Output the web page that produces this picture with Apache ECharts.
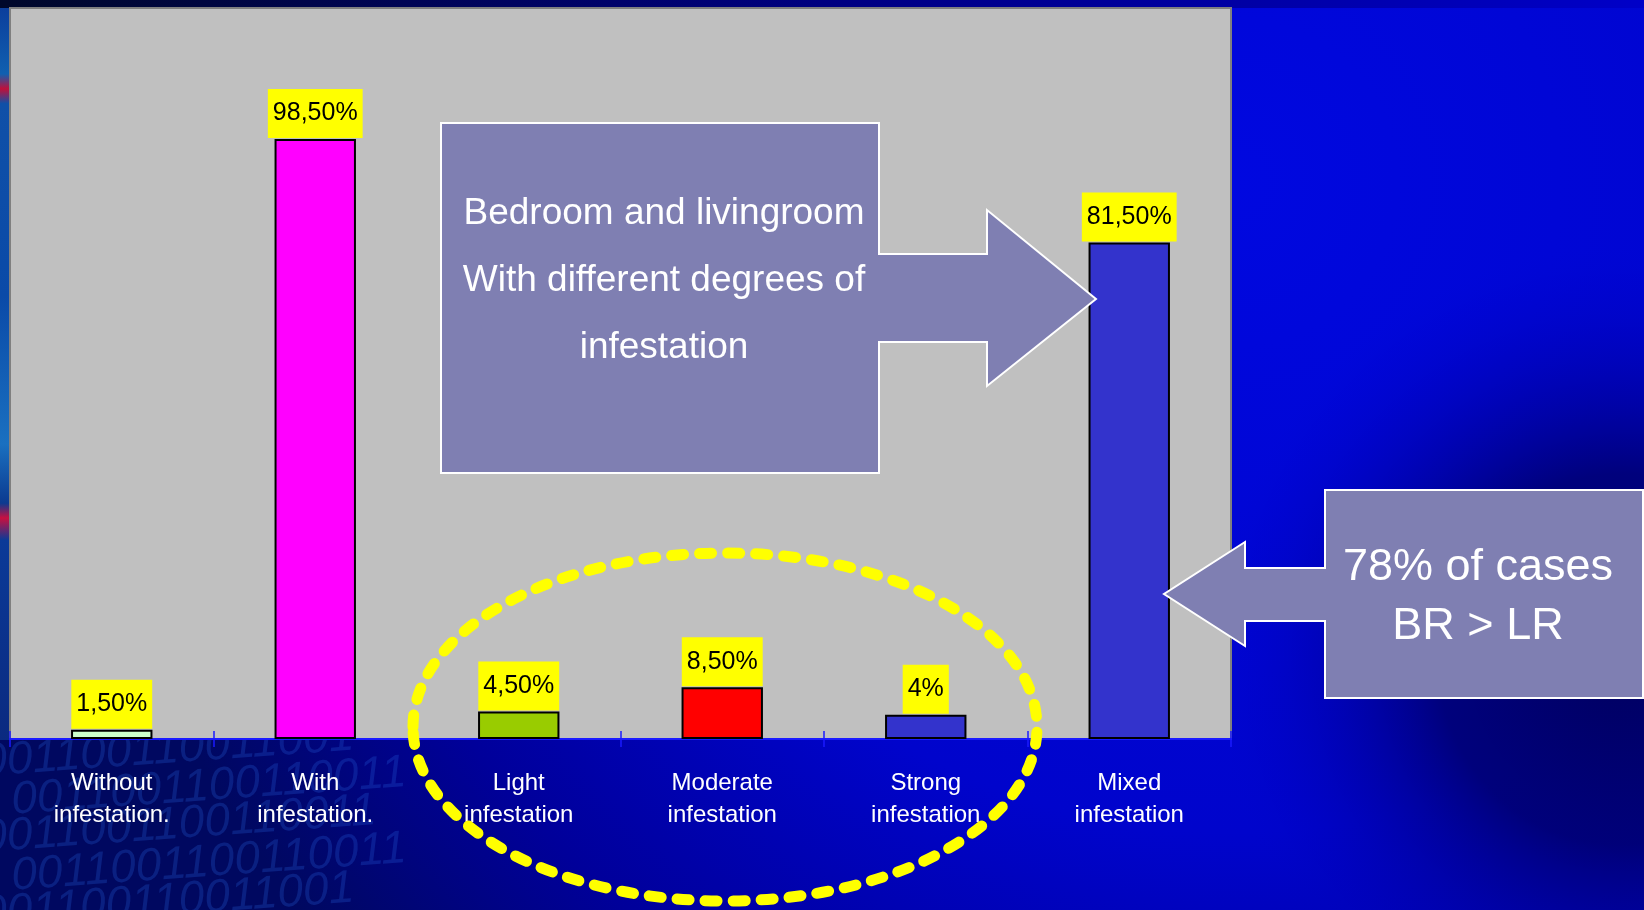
<!DOCTYPE html>
<html>
<head>
<meta charset="utf-8">
<script src="https://cdn.jsdelivr.net/npm/echarts@6/dist/echarts.min.js"></script>
<style>
html,body{margin:0;padding:0;background:#000060;}
#chart{width:1644px;height:910px;}
</style>
</head>
<body>
<div id="chart"></div>
<script>
const categories = ['Without\ninfestation.', 'With\ninfestation.', 'Light\ninfestation', 'Moderate\ninfestation', 'Strong\ninfestation', 'Mixed\ninfestation'];
const values = [1.5, 98.5, 4.5, 8.5, 4, 81.5];
const valueLabels = ['1,50%', '98,50%', '4,50%', '8,50%', '4%', '81,50%'];
const barColors = ['#CCFFCC', '#FF00FF', '#99CC00', '#FF0000', '#3333CC', '#3333CC'];
const calloutMain = ['Bedroom and livingroom', 'With different degrees of', 'infestation'];
const calloutSide = ['78% of cases', 'BR > LR'];
const binaryRows = ['001100110011001', '0011001100110011', '0011001100110011', '0011001100110011', '001100110011001'];

const FONT = '"Liberation Sans", Arial, sans-serif';
const chart = echarts.init(document.getElementById('chart'), null, {renderer: 'canvas'});

const graphics = [];
// dark blob on the right side of the slide background
graphics.push({type:'rect', z:-6, silent:true, shape:{x:1232,y:250,width:412,height:660},
  style:{fill:{type:'radial',x:0.95,y:0.62,r:1.0,colorStops:[
    {offset:0,color:'rgba(0,0,96,1)'},{offset:0.45,color:'rgba(0,0,110,0.85)'},{offset:1,color:'rgba(0,0,200,0)'}]}}});
// left decorative strip
graphics.push({type:'rect', z:-5, shape:{x:0,y:0,width:9,height:740},
  style:{fill:{type:'linear',x:0,y:0,x2:0,y2:1,colorStops:[
    {offset:0,color:'#0b3a9a'},{offset:0.1,color:'#1060b0'},{offset:0.12,color:'#c0103a'},{offset:0.14,color:'#1050a8'},
    {offset:0.4,color:'#0a4aa8'},{offset:0.6,color:'#1a70c0'},{offset:0.68,color:'#0c3a90'},{offset:0.7,color:'#c81040'},
    {offset:0.73,color:'#0a3a98'},{offset:1,color:'#0a2a80'}]}}});
// top dark strip
graphics.push({type:'rect', z:-5, shape:{x:0,y:0,width:1644,height:8},
  style:{fill:{type:'linear',x:0,y:0,x2:1,y2:0,colorStops:[{offset:0,color:'#00082a'},{offset:0.5,color:'#000080'},{offset:1,color:'#0000c8'}]}}});
// binary background text
binaryRows.forEach(function(t, i){
  graphics.push({type:'text', z:-4, x:-20 + (i%2)*30, y:740 + i*38, rotation:0.07,
    style:{text:t, fill:'rgba(40,110,235,0.24)', fontSize:46, fontStyle:'italic', fontFamily:FONT}});
});
// main callout arrow
graphics.push({type:'polygon', z:50,
  shape:{points:[[441,123],[879,123],[879,254],[987,254],[987,210],[1096,299],[987,386],[987,342],[879,342],[879,473],[441,473]]},
  style:{fill:'#7F7FB2', stroke:'#FFFFFF', lineWidth:2}});
graphics.push({type:'text', z:51, x:664, y:281,
  style:{text:calloutMain.join('\n'), fill:'#FFFFFF', fontSize:37, fontFamily:FONT, lineHeight:67, align:'center', verticalAlign:'middle'}});
// side callout arrow
graphics.push({type:'polygon', z:50,
  shape:{points:[[1643,490],[1325,490],[1325,568],[1245,568],[1245,542],[1164,594],[1245,646],[1245,621],[1325,621],[1325,698],[1643,698]]},
  style:{fill:'#7F7FB2', stroke:'#FFFFFF', lineWidth:2}});
graphics.push({type:'text', z:51, x:1478, y:597,
  style:{text:calloutSide.join('\n'), fill:'#FFFFFF', fontSize:45, fontFamily:FONT, lineHeight:59, align:'center', verticalAlign:'middle'}});
// dashed yellow ellipse
graphics.push({type:'ellipse', z:100,
  shape:{cx:725, cy:727, rx:312, ry:174},
  style:{fill:null, stroke:'#FFFF00', lineWidth:11, lineDash:[12,16], lineCap:'round'}});

const option = {
  animation: false,
  backgroundColor: {type:'radial', x:0.75, y:0.2, r:1.3, colorStops:[
    {offset:0,color:'#0008E0'},{offset:0.55,color:'#0004CC'},{offset:0.8,color:'#00009A'},{offset:1,color:'#000860'}]},
  grid: {left:10, right:413, top:8, bottom:171, show:true, backgroundColor:'#C0C0C0', borderColor:'#808080', borderWidth:2, containLabel:false},
  xAxis: [{
    type:'category', data:categories, position:'bottom',
    axisLine:{show:true, lineStyle:{color:'#1a1aff', width:2}},
    axisTick:{show:true, length:8, lineStyle:{color:'#1a1aff', width:1.5}},
    axisLabel:{color:'#FFFFFF', fontSize:24, fontFamily:FONT, lineHeight:32, margin:28, interval:0},
    splitLine:{show:false}
  },{
    type:'category', data:categories, position:'bottom',
    axisLine:{show:false},
    axisTick:{show:true, inside:true, length:8, lineStyle:{color:'#1a1aff', width:1.5}},
    axisLabel:{show:false}, splitLine:{show:false}
  }],
  yAxis: {type:'value', min:0, max:120, show:false, splitLine:{show:false}},
  series: [{
    type:'bar', xAxisIndex:0, barWidth:'40%',
    data: values.map(function(v, i){ return {value:v, itemStyle:{color:barColors[i]}}; }),
    itemStyle:{borderColor:'#000000', borderWidth:2},
    label:{show:true, position:'top', distance:1, color:'#000000', fontSize:25, fontFamily:FONT, lineHeight:25,
      backgroundColor:'#FFFF00', padding:[12,5,12,5],
      formatter:function(p){ return valueLabels[p.dataIndex]; }}
  }],
  graphic: graphics
};
chart.setOption(option);
</script>
</body>
</html>
